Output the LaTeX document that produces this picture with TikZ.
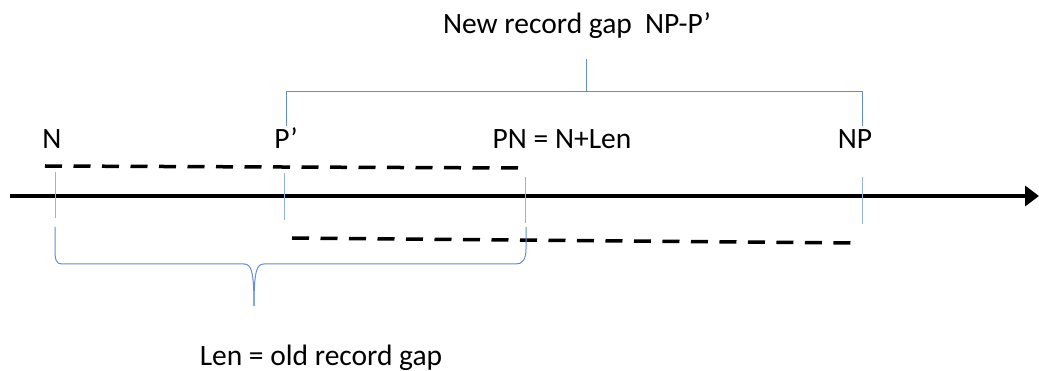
\documentclass[tikz,border=0pt]{standalone}
\usepackage{fontspec}
\setmainfont{Carlito}
\usetikzlibrary{arrows.meta}
\definecolor{tickblue}{RGB}{150,178,225}
\definecolor{brblue}{RGB}{100,140,212}
\begin{document}
\begin{tikzpicture}[x=1pt,y=-1pt,
  lbl/.style={anchor=base,inner sep=0pt,font=\fontsize{29.5}{34}\selectfont},
  ttl/.style={anchor=base,inner sep=0pt,font=\fontsize{29.5}{34}\selectfont},
  tickline/.style={draw=tickblue,line width=1pt},
  braceline/.style={draw=brblue,line width=1pt},
  dashline/.style={line width=3.5pt,dash pattern=on 17pt off 11.5pt},
  axisline/.style={line width=3.5pt,-{Triangle[length=14pt,width=20pt]}}]
\useasboundingbox (0,0) rectangle (1039,371);
% axis
\coordinate (A0) at (10,196);
\coordinate (A1) at (1039,196);
\draw[axisline] (A0) -- (A1);
% ticks
\coordinate (tN1) at (55,172);  \coordinate (tN2) at (55,218);
\coordinate (tP1) at (284,173); \coordinate (tP2) at (284,220);
\coordinate (tQ1) at (525,177); \coordinate (tQ2) at (525,223);
\coordinate (tR1) at (862,177); \coordinate (tR2) at (862,224);
\draw[tickline] (tN1) -- (tN2);
\draw[tickline] (tP1) -- (tP2);
\draw[tickline] (tQ1) -- (tQ2);
\draw[tickline] (tR1) -- (tR2);
% dashed intervals
\coordinate (d1s) at (45,166);  \coordinate (d1e) at (518,168);
\coordinate (d2s) at (292,238); \coordinate (d2e) at (851,243);
\draw[dashline] (d1s) -- (d1e);
\draw[dashline] (d2s) -- (d2e);
% labels
\node[lbl] (n)  at (52,149)  {N};
\node[lbl] (pp) at (286,149) {P’};
\node[lbl] (pn) at (562,149) {PN = N+Len};
\node[lbl] (np) at (855,149) {NP};
\node[ttl] (top) at (577,34) {New record gap\ \ NP-P’};
\node[ttl] (bot) at (321,365) {Len = old record gap};
% top bracket
\coordinate (b1) at (286,126); \coordinate (b2) at (286,92);
\coordinate (b3) at (862,92);  \coordinate (b4) at (862,126);
\coordinate (bm) at (586,92);  \coordinate (bt) at (586,59);
\draw[braceline] (b1) -- (b2) -- (b3) -- (b4);
\draw[braceline] (bm) -- (bt);
% bottom brace
\coordinate (c1) at (55,227);
\coordinate (ctip) at (254,306);
\coordinate (c2) at (526,227);
\draw[braceline] (c1) -- (55,249) .. controls (55,260) and (56,264) .. (62,264)
  -- (244,264) .. controls (251,264) and (254,270) .. (ctip);
\draw[braceline] (ctip) .. controls (254,270) and (257,264) .. (264,264)
  -- (516,264) .. controls (522,264) and (526,260) .. (526,249) -- (c2);
\end{tikzpicture}
\end{document}
